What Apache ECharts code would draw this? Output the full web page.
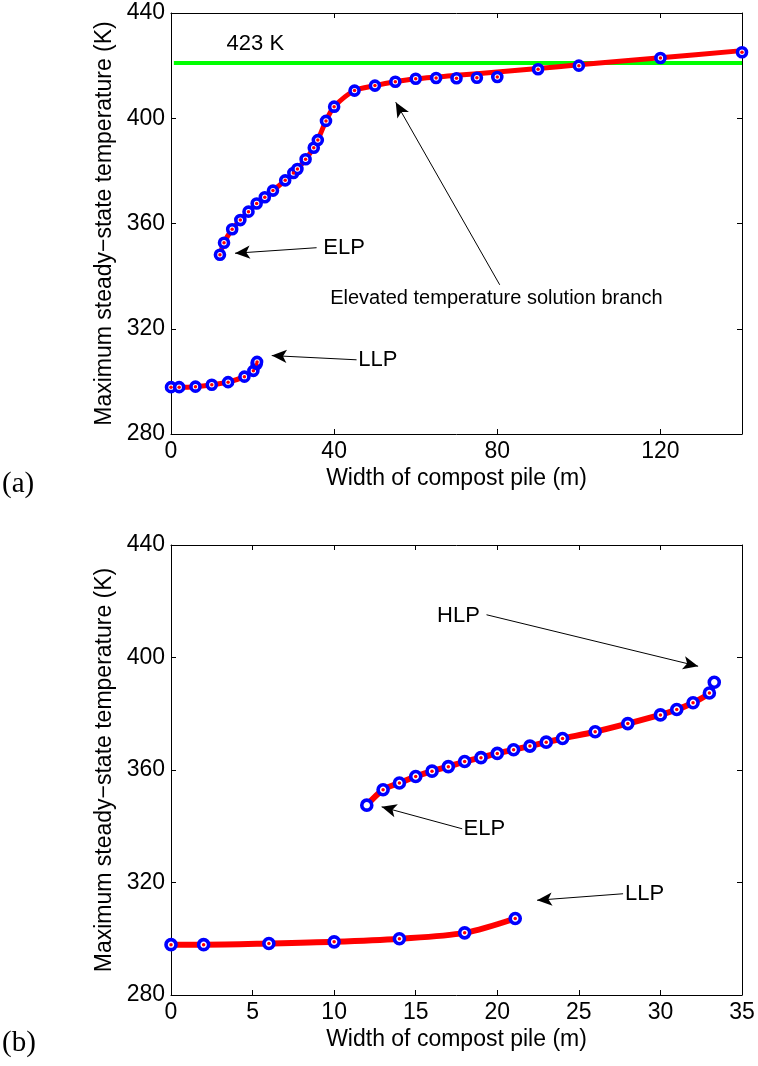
<!DOCTYPE html>
<html>
<head>
<meta charset="utf-8">
<script src="https://cdn.jsdelivr.net/npm/echarts@6/dist/echarts.min.js"></script>
<style>
html,body{margin:0;padding:0;background:#fff;}
#chart{width:758px;height:1066px;}
</style>
</head>
<body>
<div id="chart"></div>
<script>
// ---------- Panel (a) ----------
const aLLPx = [0, 2, 6, 10, 14, 18, 20.2, 21, 21.1];
const aLLPy = [297.8, 297.8, 298.0, 298.7, 299.7, 301.8, 304.0, 306.6, 307.4];
const aELPx = [12, 13, 15, 17, 19, 21, 23, 25, 28, 30, 31, 33, 35, 36, 38, 40, 45, 50, 55, 60, 65, 70, 75, 80, 90, 100, 120, 140];
const aELPy = [348.1, 352.7, 357.8, 361.3, 364.5, 367.6, 370.0, 372.5, 376.4, 379.2, 380.7, 384.4, 388.8, 391.7, 399.0, 404.4, 410.5, 412.4, 413.9, 415.0, 415.3, 415.2, 415.4, 415.7, 418.6, 420.0, 422.9, 425.1];
const aCurveX = [12, 13, 15, 17, 19, 21, 23, 25, 28, 30, 31, 33, 35, 36, 38, 40, 45, 50, 55, 60, 70, 80, 90, 100, 120, 140];
const aCurveY = [348.1, 352.7, 357.8, 361.3, 364.5, 367.6, 370.0, 372.5, 376.4, 379.2, 380.7, 384.4, 388.8, 391.7, 399.0, 404.4, 410.5, 412.4, 413.9, 415.0, 416.3, 417.6, 418.9, 420.3, 423.0, 425.7];
const aLimitX = [0.7, 140];
const aLimitY = [421, 421];
const aXTicks = [0, 40, 80, 120];
const yTicks = [280, 320, 360, 400, 440];

// ---------- Panel (b) ----------
const bLLPx = [0, 2, 6, 10, 14, 18, 21.1];
const bLLPy = [297.9, 297.9, 298.3, 298.9, 300.0, 302.1, 307.2];
const bELPx = [12, 13, 14, 15, 16, 17, 18, 19, 20, 21, 22, 23, 24, 26, 28, 30, 31, 32, 33, 33.3];
const bELPy = [347.5, 353.0, 355.4, 357.7, 359.6, 361.2, 363.0, 364.4, 365.9, 367.2, 368.5, 369.9, 371.2, 373.6, 376.5, 379.6, 381.5, 383.9, 387.4, 391.2];
const bHollowX = [12, 33.3];
const bXTicks = [0, 5, 10, 15, 20, 25, 30, 35];

// ---------- Annotations (text, arrows) ----------
const aLabels = [
  ['ELP', 37.2, 350.7, 22],
  ['LLP', 45.8, 308.2, 22],
  ['Elevated temperature solution branch', 38.9, 331.6, 20],
  ['423 K', 13.5, 428.2, 22]
];
const aArrows = [
  [35.7, 350.8, 15.7, 348.7],
  [45.5, 308.2, 24.7, 309.8],
  [80.6, 336.7, 55.1, 406.1]
];
const bLabels = [
  ['HLP', 16.28, 414.7, 22],
  ['ELP', 17.9, 339.1, 22],
  ['LLP', 27.8, 316.0, 22]
];
const bArrows = [
  [19.34, 415.2, 32.31, 396.9],
  [17.85, 339.1, 12.91, 346.9],
  [27.71, 316.0, 22.44, 313.7]
];

const FONT = 'Liberation Sans, Arial, Helvetica, sans-serif';
const zip = (xs, ys) => xs.map((x, i) => [x, ys[i]]);

function mainX(gi, min, max, interval, showMax) {
  return {
    type: 'value', gridIndex: gi, min: min, max: max, interval: interval, position: 'bottom',
    name: 'Width of compost pile (m)', nameLocation: 'middle', nameGap: 33,
    nameTextStyle: {fontFamily: FONT, fontSize: 23, color: '#000'},
    axisLine: {show: true, onZero: false, lineStyle: {color: '#000', width: 1}},
    axisTick: {show: true, inside: true, length: 5, lineStyle: {color: '#000'}},
    axisLabel: {show: true, margin: 6, fontFamily: FONT, fontSize: 23, color: '#000', showMaxLabel: showMax},
    splitLine: {show: false}
  };
}
function mirrorX(gi, min, max, interval) {
  return {
    type: 'value', gridIndex: gi, min: min, max: max, interval: interval, position: 'top',
    axisLine: {show: true, onZero: false, lineStyle: {color: '#000', width: 1}},
    axisTick: {show: true, inside: true, length: 5, lineStyle: {color: '#000'}},
    axisLabel: {show: false}, splitLine: {show: false}
  };
}
function mainY(gi, gap) {
  return {
    type: 'value', gridIndex: gi, min: 280, max: 440, interval: 40, position: 'left',
    name: 'Maximum steady\u2212state temperature (K)', nameLocation: 'middle', nameGap: gap,
    nameTextStyle: {fontFamily: FONT, fontSize: 23, color: '#000'},
    axisLine: {show: true, onZero: false, lineStyle: {color: '#000', width: 1}},
    axisTick: {show: true, inside: true, length: 5, lineStyle: {color: '#000'}},
    axisLabel: {show: true, margin: 6, fontFamily: FONT, fontSize: 23, color: '#000'},
    splitLine: {show: false}
  };
}
function mirrorY(gi) {
  return {
    type: 'value', gridIndex: gi, min: 280, max: 440, interval: 40, position: 'right',
    axisLine: {show: true, onZero: false, lineStyle: {color: '#000', width: 1}},
    axisTick: {show: true, inside: true, length: 5, lineStyle: {color: '#000'}},
    axisLabel: {show: false}, splitLine: {show: false}
  };
}

function curve(xi, yi, data, width) {
  return {type: 'line', xAxisIndex: xi, yAxisIndex: yi, data: data, smooth: 0.3, showSymbol: false,
    symbol: 'none', lineStyle: {color: '#ff0000', width: width, cap: 'round', join: 'round'}, z: 2, silent: true};
}
function rings(xi, yi, data, size) {
  return {type: 'scatter', xAxisIndex: xi, yAxisIndex: yi, data: data, symbol: 'circle', symbolSize: size,
    itemStyle: {color: '#ffffff', borderColor: '#0000ff', borderWidth: 3.6, opacity: 1}, z: 3, silent: true};
}
function dots(xi, yi, data) {
  return {type: 'scatter', xAxisIndex: xi, yAxisIndex: yi, data: data, symbol: 'circle', symbolSize: 3.5,
    itemStyle: {color: '#ff0000', opacity: 1}, z: 4, silent: true};
}
function labels(xi, yi, list) {
  return {type: 'scatter', xAxisIndex: xi, yAxisIndex: yi, symbolSize: 1, z: 6, silent: true,
    itemStyle: {color: 'rgba(0,0,0,0)', opacity: 1},
    data: list.map(l => ({value: [l[1], l[2]], name: l[0],
      label: {show: true, position: 'right', distance: 0, formatter: l[0], fontFamily: FONT, fontSize: l[3], color: '#000', opacity: 1}}))};
}
function arrows(xi, yi, list) {
  return {type: 'scatter', xAxisIndex: xi, yAxisIndex: yi, data: [], z: 5, silent: true,
    markLine: {silent: true, animation: false, symbolSize: [10, 15],
      lineStyle: {color: '#000', width: 1, type: 'solid', opacity: 1}, label: {show: false},
      data: list.map(a => [{coord: [a[0], a[1]], symbol: 'none'}, {coord: [a[2], a[3]], symbol: 'arrow'}])}};
}

const bDots = zip(bELPx, bELPy).filter(p => bHollowX.indexOf(p[0]) < 0);

const option = {
  animation: false,
  backgroundColor: '#fff',
  grid: [
    {left: 171, top: 13, width: 571, height: 421},
    {left: 171, top: 545, width: 571, height: 450}
  ],
  xAxis: [
    mainX(0, 0, 140, 40, false), mirrorX(0, 0, 140, 40),
    mainX(1, 0, 35, 5, true), mirrorX(1, 0, 35, 5)
  ],
  yAxis: [mainY(0, 48), mirrorY(0), mainY(1, 55), mirrorY(1)],
  series: [
    // panel (a)
    {type: 'line', xAxisIndex: 0, yAxisIndex: 0, data: zip(aLimitX, aLimitY), symbol: 'none',
      lineStyle: {color: '#00ff00', width: 4}, z: 1, silent: true},
    curve(0, 0, zip(aLLPx, aLLPy), 5),
    curve(0, 0, zip(aCurveX, aCurveY), 5),
    rings(0, 0, zip(aLLPx, aLLPy), 9),
    rings(0, 0, zip(aELPx, aELPy), 9),
    dots(0, 0, zip(aLLPx, aLLPy)),
    dots(0, 0, zip(aELPx, aELPy)),
    arrows(0, 0, aArrows),
    labels(0, 0, aLabels),
    // panel (b)
    curve(2, 2, zip(bLLPx, bLLPy), 6),
    curve(2, 2, zip(bELPx, bELPy), 6),
    rings(2, 2, zip(bLLPx, bLLPy), 10),
    rings(2, 2, zip(bELPx, bELPy), 10),
    dots(2, 2, zip(bLLPx, bLLPy)),
    dots(2, 2, bDots),
    arrows(2, 2, bArrows),
    labels(2, 2, bLabels)
  ],
  graphic: [
    {type: 'text', left: 2, top: 470, style: {text: '(a)', font: '29px "Liberation Serif", "DejaVu Serif", serif', fill: '#000'}},
    {type: 'text', left: 2, top: 1029, style: {text: '(b)', font: '29px "Liberation Serif", "DejaVu Serif", serif', fill: '#000'}}
  ]
};

const chart = echarts.init(document.getElementById('chart'), null, {renderer: 'canvas'});
chart.setOption(option);
</script>
</body>
</html>
